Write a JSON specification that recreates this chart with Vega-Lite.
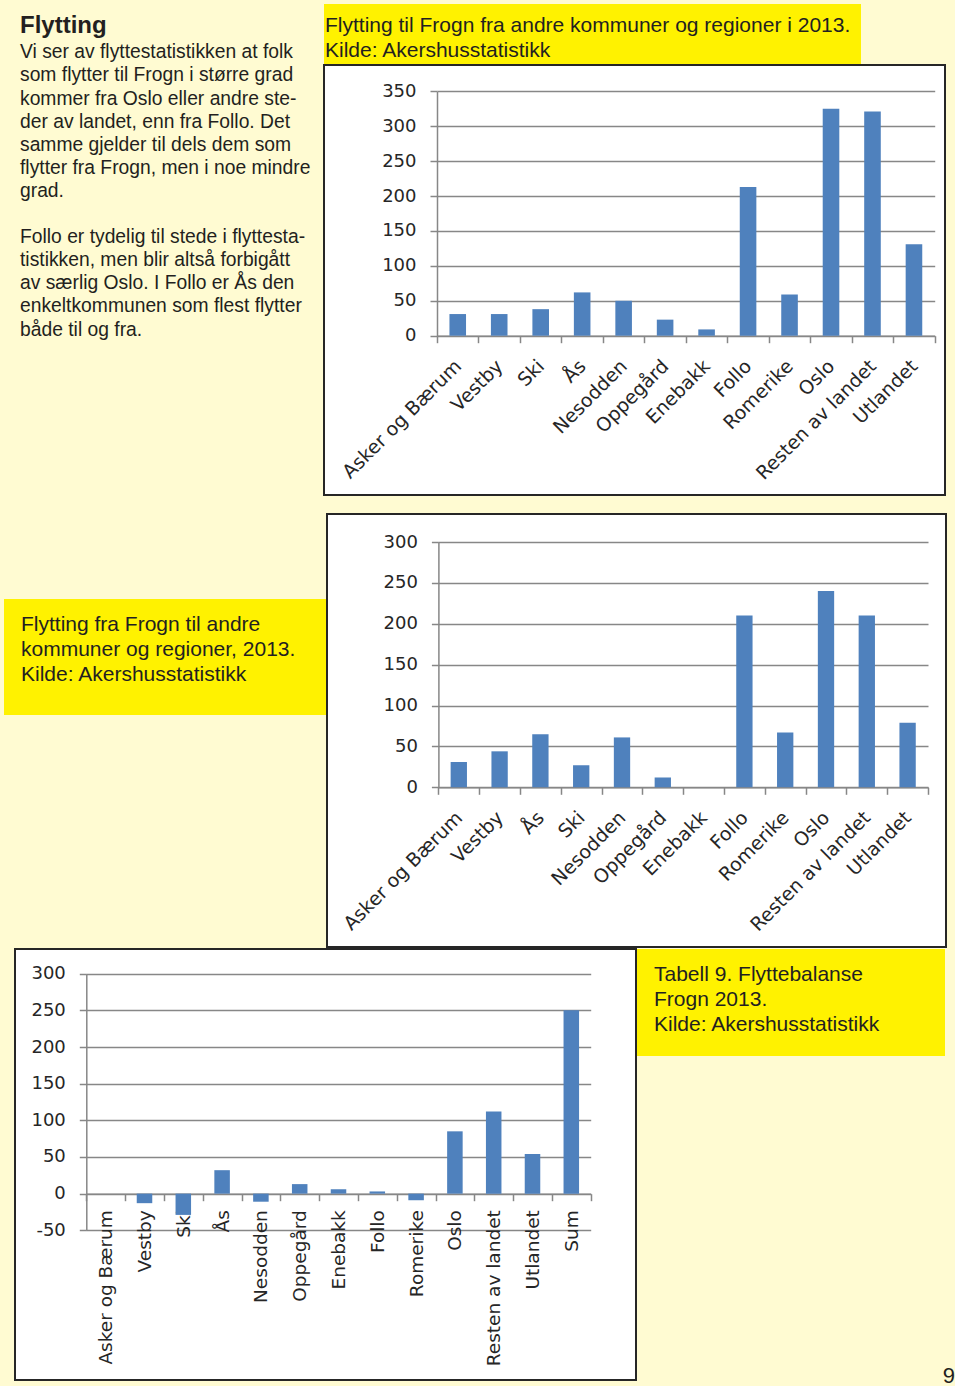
{
  "$schema": "https://vega.github.io/schema/vega-lite/v6.json",
  "background": "#FFFBD2",
  "padding": {"left": 4, "top": 4, "right": 0, "bottom": 0},
  "spacing": 0,
  "config": {
    "view": {"stroke": null},
    "concat": {"spacing": 0},
    "axis": {
      "labelFont": "DejaVu Sans",
      "labelFontSize": 18,
      "labelColor": "#262626",
      "domainColor": "#878787",
      "domainWidth": 1.5,
      "tickColor": "#878787",
      "tickWidth": 1.5,
      "tickSize": 7,
      "gridColor": "#878787",
      "gridWidth": 1.5
    },
    "axisY": {"grid": true, "labelPadding": 14},
    "axisX": {"grid": false}
  },
  "datasets": {
    "intro": [
      {"linje": 0, "tekst": "Flytting"},
      {"linje": 1, "tekst": "Vi ser av flyttestatistikken at folk"},
      {"linje": 2, "tekst": "som flytter til Frogn i større grad"},
      {"linje": 3, "tekst": "kommer fra Oslo eller andre ste-"},
      {"linje": 4, "tekst": "der av landet, enn fra Follo. Det"},
      {"linje": 5, "tekst": "samme gjelder til dels dem som"},
      {"linje": 6, "tekst": "flytter fra Frogn, men i noe mindre"},
      {"linje": 7, "tekst": "grad."},
      {"linje": 9, "tekst": "Follo er tydelig til stede i flyttesta-"},
      {"linje": 10, "tekst": "tistikken, men blir altså forbigått"},
      {"linje": 11, "tekst": "av særlig Oslo. I Follo er Ås den"},
      {"linje": 12, "tekst": "enkeltkommunen som flest flytter"},
      {"linje": 13, "tekst": "både til og fra."}
    ],
    "cap1": [
      {"linje": 0, "tekst": "Flytting til Frogn fra andre kommuner og regioner i 2013."},
      {"linje": 1, "tekst": "Kilde: Akershusstatistikk"}
    ],
    "cap2": [
      {"linje": 0, "tekst": "Flytting fra Frogn til andre"},
      {"linje": 1, "tekst": "kommuner og regioner, 2013."},
      {"linje": 2, "tekst": "Kilde: Akershusstatistikk"}
    ],
    "cap3": [
      {"linje": 0, "tekst": "Tabell 9. Flyttebalanse"},
      {"linje": 1, "tekst": "Frogn 2013."},
      {"linje": 2, "tekst": "Kilde: Akershusstatistikk"}
    ],
    "side": [{"tekst": "9"}],
    "inn": [
      {"sted": "Asker og Bærum", "antall": 31},
      {"sted": "Vestby", "antall": 31},
      {"sted": "Ski", "antall": 38},
      {"sted": "Ås", "antall": 62},
      {"sted": "Nesodden", "antall": 50},
      {"sted": "Oppegård", "antall": 23},
      {"sted": "Enebakk", "antall": 9},
      {"sted": "Follo", "antall": 213},
      {"sted": "Romerike", "antall": 59},
      {"sted": "Oslo", "antall": 325},
      {"sted": "Resten av landet", "antall": 321},
      {"sted": "Utlandet", "antall": 131}
    ],
    "ut": [
      {"sted": "Asker og Bærum", "antall": 31},
      {"sted": "Vestby", "antall": 44},
      {"sted": "Ås", "antall": 65},
      {"sted": "Ski", "antall": 27},
      {"sted": "Nesodden", "antall": 61},
      {"sted": "Oppegård", "antall": 12},
      {"sted": "Enebakk", "antall": 0},
      {"sted": "Follo", "antall": 210},
      {"sted": "Romerike", "antall": 67},
      {"sted": "Oslo", "antall": 240},
      {"sted": "Resten av landet", "antall": 210},
      {"sted": "Utlandet", "antall": 79}
    ],
    "balanse": [
      {"sted": "Asker og Bærum", "antall": 0},
      {"sted": "Vestby", "antall": -13},
      {"sted": "Ski", "antall": -29},
      {"sted": "Ås", "antall": 32},
      {"sted": "Nesodden", "antall": -11},
      {"sted": "Oppegård", "antall": 13},
      {"sted": "Enebakk", "antall": 6},
      {"sted": "Follo", "antall": 3},
      {"sted": "Romerike", "antall": -9},
      {"sted": "Oslo", "antall": 85},
      {"sted": "Resten av landet", "antall": 112},
      {"sted": "Utlandet", "antall": 54},
      {"sted": "Sum", "antall": 250}
    ]
  },
  "vconcat": [
    {
      "spacing": -8,
      "hconcat": [
        {
          "width": 320,
          "height": 509,
          "data": {"name": "intro"},
          "encoding": {
            "x": {"datum": 0, "type": "quantitative", "scale": {"domain": [0, 1], "nice": false, "zero": false}, "axis": null},
            "y": {"field": "linje", "type": "quantitative", "scale": {"domain": [-1.351, 20.684], "reverse": true, "nice": false, "zero": false}, "axis": null},
            "text": {"field": "tekst"}
          },
          "layer": [
            {
              "transform": [{"filter": "datum.linje == 0"}],
              "mark": {"type": "text", "align": "left", "baseline": "alphabetic", "dx": 16, "dy": -2, "font": "Liberation Sans", "fontSize": 24, "fontWeight": "bold", "color": "#231F20"}
            },
            {
              "transform": [{"filter": "datum.linje > 0"}],
              "mark": {"type": "text", "align": "left", "baseline": "alphabetic", "dx": 16, "font": "Liberation Sans", "fontSize": 19.3, "color": "#231F20"}
            }
          ]
        },
        {
          "spacing": 0,
          "vconcat": [
            {
              "width": 537,
              "height": 60,
              "view": {"fill": "#FFF200", "stroke": null},
              "data": {"name": "cap1"},
              "mark": {"type": "text", "align": "left", "baseline": "alphabetic", "dx": 1, "font": "Liberation Sans", "fontSize": 21, "color": "#231F20"},
              "encoding": {
                "x": {"datum": 0, "type": "quantitative", "scale": {"domain": [0, 1], "nice": false, "zero": false}, "axis": null},
                "y": {"field": "linje", "type": "quantitative", "scale": {"domain": [-1.12, 1.28], "reverse": true, "nice": false, "zero": false}, "axis": null},
                "text": {"field": "tekst"}
              }
            },
            {
              "width": 621,
              "height": 430,
              "view": {"fill": "white", "stroke": "#262626", "strokeWidth": 2},
              "data": {"name": "inn"},
              "mark": {"type": "bar", "color": "#4F81BD", "width": {"band": 0.4}},
              "encoding": {
                "x": {
                  "field": "sted", "type": "nominal", "sort": null, "title": null,
                  "scale": {"paddingInner": 0, "paddingOuter": 0, "range": [113, 610.7]},
                  "axis": {"offset": -159.3, "labelAngle": -45, "labelAlign": "right", "labelBaseline": "middle", "labelPadding": 20, "tickBand": "extent", "labelFontSize": 19}
                },
                "y": {
                  "field": "antall", "type": "quantitative", "title": null,
                  "scale": {"domain": [0, 350], "range": [270.7, 26.3], "nice": false},
                  "axis": {"offset": -113, "values": [0, 50, 100, 150, 200, 250, 300, 350]}
                }
              }
            }
          ]
        }
      ]
    },
    {
      "spacing": -8,
      "hconcat": [
        {
          "spacing": 0,
          "vconcat": [
            {
              "width": 323,
              "height": 85,
              "data": {"values": []},
              "mark": "point",
              "encoding": {}
            },
            {
              "width": 323,
              "height": 116,
              "view": {"fill": "#FFF200", "stroke": null},
              "data": {"name": "cap2"},
              "mark": {"type": "text", "align": "left", "baseline": "alphabetic", "dx": 17, "font": "Liberation Sans", "fontSize": 21, "color": "#231F20"},
              "encoding": {
                "x": {"datum": 0, "type": "quantitative", "scale": {"domain": [0, 1], "nice": false, "zero": false}, "axis": null},
                "y": {"field": "linje", "type": "quantitative", "scale": {"domain": [-1.28, 3.36], "reverse": true, "nice": false, "zero": false}, "axis": null},
                "text": {"field": "tekst"}
              }
            }
          ]
        },
        {
          "width": 619,
          "height": 433,
          "view": {"fill": "white", "stroke": "#262626", "strokeWidth": 2},
          "data": {"name": "ut"},
          "mark": {"type": "bar", "color": "#4F81BD", "width": {"band": 0.4}},
          "encoding": {
            "x": {
              "field": "sted", "type": "nominal", "sort": null, "title": null,
              "scale": {"paddingInner": 0, "paddingOuter": 0, "range": [111.4, 601]},
              "axis": {"offset": -159.7, "labelAngle": -45, "labelAlign": "right", "labelBaseline": "middle", "labelPadding": 20, "tickBand": "extent", "labelFontSize": 19}
            },
            "y": {
              "field": "antall", "type": "quantitative", "title": null,
              "scale": {"domain": [0, 300], "range": [273.3, 28], "nice": false},
              "axis": {"offset": -111.4, "values": [0, 50, 100, 150, 200, 250, 300]}
            }
          }
        }
      ]
    },
    {
      "spacing": 0,
      "hconcat": [
        {
          "width": 0.5,
          "height": 1,
          "data": {"values": []},
          "mark": "point",
          "encoding": {}
        },
        {
          "width": 621,
          "height": 431,
          "view": {"fill": "white", "stroke": "#262626", "strokeWidth": 2},
          "data": {"name": "balanse"},
          "mark": {"type": "bar", "color": "#4F81BD", "width": {"band": 0.4}},
          "encoding": {
            "x": {
              "field": "sted", "type": "nominal", "sort": null, "title": null,
              "scale": {"paddingInner": 0, "paddingOuter": 0, "range": [71.3, 575.7]},
              "axis": {"offset": -186.3, "labelAngle": -90, "labelAlign": "right", "labelBaseline": "middle", "labelPadding": 9, "tickBand": "extent", "labelFontSize": 18.5}
            },
            "y": {
              "field": "antall", "type": "quantitative", "title": null,
              "scale": {"domain": [-50, 300], "range": [281.3, 24.7], "nice": false},
              "axis": {"offset": -71.3, "values": [-50, 0, 50, 100, 150, 200, 250, 300], "labelExpr": "'' + datum.value"}
            }
          }
        },
        {
          "spacing": 0,
          "vconcat": [
            {
              "width": 308,
              "height": 107,
              "view": {"fill": "#FFF200", "stroke": null},
              "data": {"name": "cap3"},
              "mark": {"type": "text", "align": "left", "baseline": "alphabetic", "dx": 17, "font": "Liberation Sans", "fontSize": 21, "color": "#231F20"},
              "encoding": {
                "x": {"datum": 0, "type": "quantitative", "scale": {"domain": [0, 1], "nice": false, "zero": false}, "axis": null},
                "y": {"field": "linje", "type": "quantitative", "scale": {"domain": [-1.308, 3.024], "reverse": true, "nice": false, "zero": false}, "axis": null},
                "text": {"field": "tekst"}
              }
            },
            {
              "width": 318,
              "height": 329,
              "data": {"name": "side"},
              "mark": {"type": "text", "align": "right", "baseline": "alphabetic", "dx": 0, "dy": -2, "font": "Liberation Sans", "fontSize": 22, "color": "#231F20"},
              "encoding": {
                "x": {"datum": 1, "type": "quantitative", "scale": {"domain": [0, 1], "nice": false, "zero": false}, "axis": null},
                "y": {"datum": 0, "type": "quantitative", "scale": {"domain": [0, 1], "nice": false, "zero": false}, "axis": null},
                "text": {"field": "tekst"}
              }
            }
          ]
        }
      ]
    }
  ]
}
